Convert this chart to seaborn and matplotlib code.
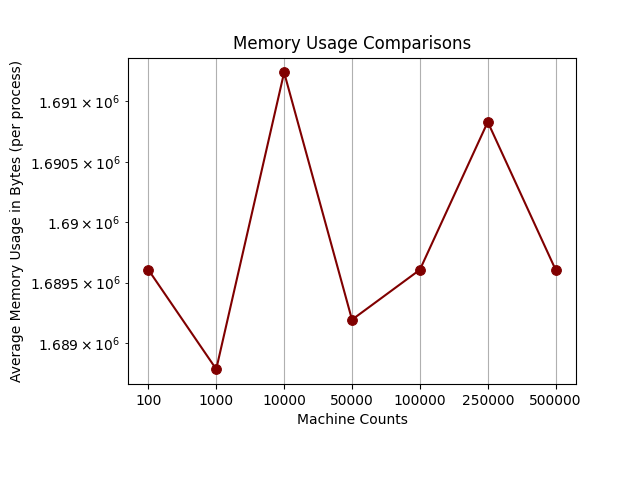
import matplotlib
matplotlib.use('Agg')
import matplotlib.pyplot as plt
import seaborn as sns

# Machine counts (categorical x) and average memory per process in bytes
machine_counts = ['100', '1000', '10000', '50000', '100000', '250000', '500000']
avg_memory = [1689607, 1688785, 1691240, 1689194, 1689607, 1690830, 1689607]

fig, ax = plt.subplots(figsize=(6.4, 4.8), dpi=100)
fig.subplots_adjust(left=0.2, bottom=0.2, right=0.9, top=0.88)

sns.lineplot(x=machine_counts, y=avg_memory, sort=False, ax=ax,
             color='maroon', marker='o', markersize=7,
             markeredgecolor='maroon', linewidth=1.5)

ax.set_yscale('log')
ax.grid(axis='x')
ax.set_title('Memory Usage Comparisons')
ax.set_xlabel('Machine Counts')
ax.set_ylabel('Average Memory Usage in Bytes (per process)')

plt.savefig('out.png')
plt.close()
